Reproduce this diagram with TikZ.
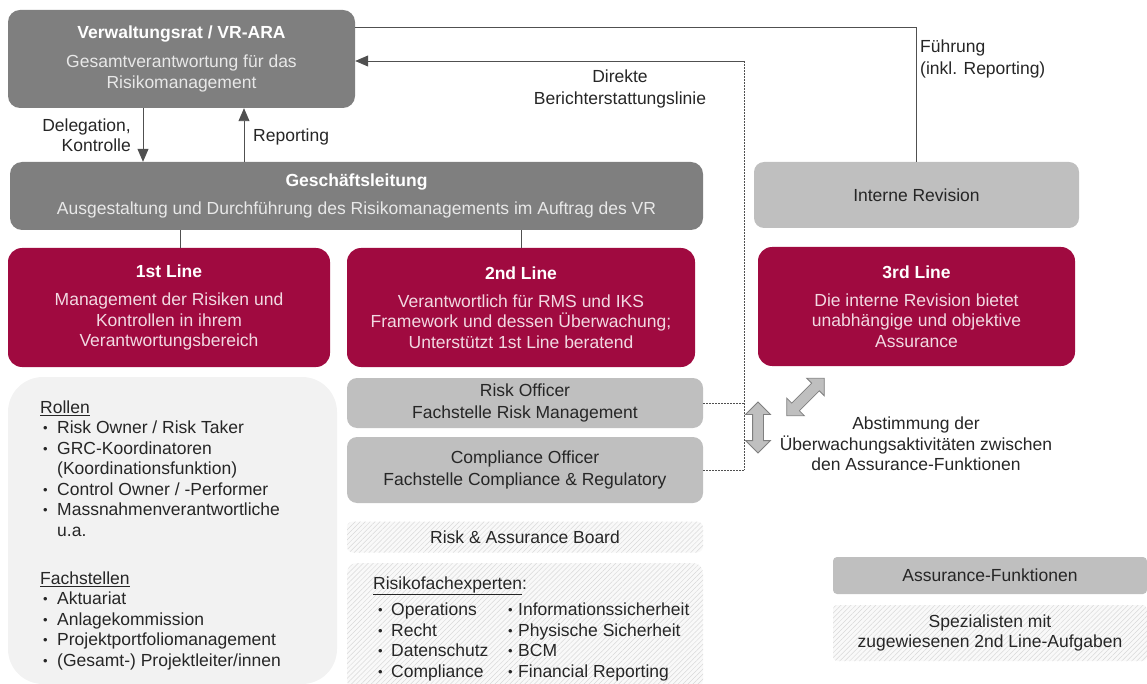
\documentclass[tikz,border=0pt]{standalone}
\usepackage{fontspec}
\setmainfont{Liberation Sans}
\usetikzlibrary{arrows.meta,shapes.arrows,patterns.meta}

\definecolor{boxgray}{HTML}{7F7F7F}
\definecolor{lightbox}{HTML}{BFBFBF}
\definecolor{crimson}{HTML}{A00A40}
\definecolor{paleback}{HTML}{F2F2F2}
\definecolor{linegray}{HTML}{505050}
\definecolor{textdark}{HTML}{262626}
\definecolor{subtext}{HTML}{E8E8E8}
\definecolor{pinktext}{HTML}{F2D9E2}

\newcommand{\bodyfont}{\fontsize{17.5}{20.5}\selectfont}
\newcommand{\itemdot}[1]{\makebox[#1][l]{\fontsize{13}{13}\selectfont\raisebox{1pt}{•}}}

\tikzstyle{darkbox} = [rectangle, rounded corners=12pt, fill=boxgray, text=subtext, align=center, font=\bodyfont, inner sep=0pt]
\tikzstyle{linebox} = [rectangle, rounded corners=14pt, fill=crimson, text=pinktext, align=center, font=\bodyfont, inner sep=0pt]
\tikzstyle{greybox} = [rectangle, rounded corners=10pt, fill=lightbox, text=textdark, align=center, font=\bodyfont, inner sep=0pt]
\tikzstyle{hatchbox} = [rectangle, rounded corners=10pt, preaction={fill=gray!5}, pattern={Lines[angle=45,distance=3.5pt,line width=0.5pt]}, pattern color=gray!30, text=textdark, align=center, font=\bodyfont, inner sep=0pt]
\tikzstyle{palebox} = [rectangle, rounded corners=35pt, fill=paleback]
\tikzstyle{listtext} = [font=\bodyfont, text=textdark, align=left, inner sep=0pt]
\tikzstyle{note} = [font=\bodyfont, text=textdark, align=center, inner sep=2pt]
\tikzstyle{syncarrow} = [double arrow, draw=boxgray, line width=0.8pt, fill=lightbox, inner sep=5pt, double arrow head extend=7pt, minimum width=24pt, minimum height=51pt]
\tikzstyle{link} = [draw=linegray, line width=0.9pt]

\begin{document}
\begin{tikzpicture}[x=1pt, y=-1pt, >={Triangle[length=13pt,width=11pt]}]
\useasboundingbox (0,0) rectangle (1147,684);

% governance
\node (board) [darkbox, minimum width=347pt, minimum height=98pt] at (181.5,59) {\textcolor{white}{\textbf{Verwaltungsrat / VR-ARA}}\\[8.5pt]Gesamtverantwortung für das\\Risikomanagement};

\node (mgmt) [darkbox, minimum width=693pt, minimum height=68pt] at (356.5,196) {\textcolor{white}{\textbf{Geschäftsleitung}}\\[7.5pt]Ausgestaltung und Durchführung des Risikomanagements im Auftrag des VR};

\node (revision) [greybox, minimum width=325pt, minimum height=66pt] at (916.5,195) {Interne Revision};

% three lines
\node (line1) [linebox, minimum width=322pt, minimum height=119pt] at (169,307.5) {\textcolor{white}{\textbf{1st Line}}\\[7.5pt]Management der Risiken und\\Kontrollen in ihrem\\Verantwortungsbereich};

\node (line2) [linebox, minimum width=348pt, minimum height=119pt] at (521,307.5) {\textcolor{white}{\textbf{2nd Line}}\\[7.5pt]Verantwortlich für RMS und IKS\\Framework und dessen Überwachung;\\Unterstützt 1st Line beratend};

\node (line3) [linebox, minimum width=317pt, minimum height=119pt] at (916.5,306.5) {\textcolor{white}{\textbf{3rd Line}}\\[7pt]Die interne Revision bietet\\unabhängige und objektive\\Assurance};

% 1st line roles
\node (roles) [palebox, minimum width=329pt, minimum height=307pt] at (172.5,530.5) {};
\node (rolelist) [listtext, anchor=north west] at (40,400.5) {\underline{Rollen}\\
\hspace*{3pt}\itemdot{14pt}Risk Owner / Risk Taker\\
\hspace*{3pt}\itemdot{14pt}GRC-Koordinatoren\\
\hspace*{17pt}(Koordinationsfunktion)\\
\hspace*{3pt}\itemdot{14pt}Control Owner / -Performer\\
\hspace*{3pt}\itemdot{14pt}Massnahmenverantwortliche\\
\hspace*{17pt}u.a.\\[27.5pt]
\underline{Fachstellen}\\
\hspace*{3pt}\itemdot{14pt}Aktuariat\\
\hspace*{3pt}\itemdot{14pt}Anlagekommission\\
\hspace*{3pt}\itemdot{14pt}Projektportfoliomanagement\\
\hspace*{3pt}\itemdot{14pt}(Gesamt-) Projektleiter/innen};

% 2nd line functions
\node (riskofficer) [greybox, minimum width=356pt, minimum height=50pt] at (525,403) {Risk Officer\\[1.5pt]Fachstelle Risk Management};

\node (compliance) [greybox, minimum width=356pt, minimum height=66pt] at (525,470) {Compliance Officer\\[2pt]Fachstelle Compliance \& Regulatory};

\node (rab) [hatchbox, rounded corners=6pt, minimum width=356pt, minimum height=31pt] at (525,537) {Risk \& Assurance Board};

\node (experts) [hatchbox, minimum width=356pt, minimum height=127pt] at (525,626.5) {};
\node (expertlist) [listtext, anchor=north west] at (373,576.5) {\underline{Risikofachexperten}:\\[6pt]
\makebox[135pt][l]{\hspace*{5pt}\itemdot{13pt}Operations}\itemdot{10pt}Informationssicherheit\\
\makebox[135pt][l]{\hspace*{5pt}\itemdot{13pt}Recht}\itemdot{10pt}Physische Sicherheit\\
\makebox[135pt][l]{\hspace*{5pt}\itemdot{13pt}Datenschutz}\itemdot{10pt}BCM\\
\makebox[135pt][l]{\hspace*{5pt}\itemdot{13pt}Compliance}\itemdot{10pt}Financial Reporting};

% coordination
\node (sync1) [syncarrow, rotate=90] at (758,427.5) {};
\node (sync2) [syncarrow, rotate=45, minimum height=53pt] at (805.5,397) {};
\node (synctext) [note] at (916,444) {Abstimmung der\\Überwachungsaktivitäten zwischen\\den Assurance-Funktionen};

% legend
\node (legend1) [greybox, rounded corners=4pt, minimum width=314pt, minimum height=37pt] at (990,575.5) {Assurance-Funktionen};
\node (legend2) [hatchbox, rounded corners=4pt, minimum width=314pt, minimum height=56pt] at (990,633) {Spezialisten mit\\zugewiesenen 2nd Line-Aufgaben};

% labels
\node (delegation) [note, align=right, anchor=east] at (133,135) {Delegation,\\Kontrolle};
\node (reporting) [note, anchor=west] at (251,137) {Reporting};
\node (direct) [note] at (620,89) {Direkte\\[1.5pt]Berichterstattungslinie};
\node (lead) [note, align=left, anchor=west] at (918,59) {Führung\\[1.5pt](inkl. Reporting)};

% connectors
\coordinate (bus) at (744,61);

\draw [link, ->] ([xshift=-38.5pt]board.south) -- ([xshift=-38.5pt]board.south |- mgmt.north);
\draw [link, ->] ([xshift=62.5pt]board.south |- mgmt.north) -- ([xshift=62.5pt]board.south);
\draw [link] ([xshift=11pt]line1.north) -- ([xshift=11pt]line1.north |- mgmt.south);
\draw [link] (line2.north) -- (line2.north |- mgmt.south);
\draw [link] (revision.north) |- (board.east |- 0,27.5);
\draw [link, ->] (bus) -- (bus -| board.east);
\draw [link, dash pattern=on 2pt off 1pt] (bus) -- (bus |- compliance.east);
\draw [link, dash pattern=on 2pt off 1pt] (riskofficer.east) -- (riskofficer.east -| bus);
\draw [link, dash pattern=on 2pt off 1pt] (compliance.east) -- (compliance.east -| bus);
\end{tikzpicture}
\end{document}
